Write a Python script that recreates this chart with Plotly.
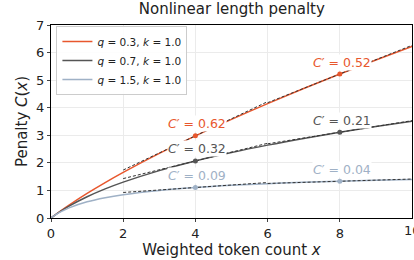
import plotly.graph_objects as go

# Curves
x_vals = [0, 0.1, 0.25, 0.5, 1, 1.5, 2, 3, 4, 5, 6, 7, 8, 9, 10]
c_q03 = [0, 0.099, 0.242, 0.469, 0.892, 1.284, 1.654, 2.342, 2.98, 3.579, 4.150, 4.696, 5.222, 5.731, 6.226]
c_q07 = [0, 0.097, 0.231, 0.431, 0.770, 1.055, 1.301, 1.719, 2.069, 2.373, 2.643, 2.887, 3.111, 3.318, 3.511]
c_q15 = [0, 0.093, 0.211, 0.367, 0.586, 0.735, 0.845, 1.0, 1.106, 1.184, 1.244, 1.293, 1.333, 1.368, 1.397]

legend_labels = ["<i>q</i> = 0.3, <i>k</i> = 1.0", "<i>q</i> = 0.7, <i>k</i> = 1.0", "<i>q</i> = 1.5, <i>k</i> = 1.0"]
colors = ["#e8572d", "#555555", "#9fb1c6"]

# Tangent points and slopes
tangent_x = [4, 8]
tangent_y = [[2.98, 5.222], [2.069, 3.111], [1.106, 1.333]]
slopes = [[0.62, 0.52], [0.32, 0.21], [0.09, 0.04]]

x_ticks = [0, 2, 4, 6, 8, 10]
y_ticks = [0, 1, 2, 3, 4, 5, 6, 7]

fig = go.Figure()
curves = [c_q03, c_q07, c_q15]
for i, c in enumerate(curves):
    fig.add_trace(go.Scatter(x=x_vals, y=c, mode="lines", line=dict(color=colors[i], width=1.5, shape="spline"),
                             name=legend_labels[i], cliponaxis=True))
for i in range(3):
    for j, x0 in enumerate(tangent_x):
        y0 = tangent_y[i][j]
        s = slopes[i][j]
        fig.add_trace(go.Scatter(x=[x0 - 2, x0 + 2], y=[y0 - 2 * s, y0 + 2 * s], mode="lines",
                                 line=dict(color="#333333", width=1, dash="3px,2px"), showlegend=False,
                                 hoverinfo="skip"))
    fig.add_trace(go.Scatter(x=tangent_x, y=tangent_y[i], mode="markers",
                             marker=dict(color=colors[i], size=5), showlegend=False))
    for j, x0 in enumerate(tangent_x):
        fig.add_annotation(x=x0, y=tangent_y[i][j], text=f"<i>C</i>′ = {slopes[i][j]:.2f}",
                           showarrow=False, yshift=12, xshift=2, bgcolor="white",
                           font=dict(color=colors[i], size=12.5, family="DejaVu Sans"), borderpad=0)

# Last x tick label drawn as annotation so it is clipped by the page edge like the reference
fig.add_annotation(x=x_ticks[-1], y=0, xref="x", yref="paper", text=str(x_ticks[-1]), showarrow=False,
                   yanchor="top", yshift=-3, font=dict(size=13, color="#222222"))

fig.update_layout(
    width=414, height=260,
    margin=dict(l=51, r=2, t=25, b=42, autoexpand=False),
    paper_bgcolor="white", plot_bgcolor="white",
    font=dict(family="DejaVu Sans", color="#222222", size=13),
    title=dict(text="Nonlinear length penalty", x=0.56, xanchor="center", y=0.985, yanchor="top",
               font=dict(size=15)),
    legend=dict(x=0.015, y=0.995, xanchor="left", yanchor="top", bgcolor="rgba(255,255,255,0.9)",
                bordercolor="#cccccc", borderwidth=1, font=dict(size=10.5), itemwidth=30,
                tracegroupgap=0),
    showlegend=True,
)
fig.update_xaxes(range=[0, 10], tickvals=x_ticks[:-1], showgrid=True, gridcolor="#ebebeb", gridwidth=1,
                 showline=True, linecolor="black", linewidth=1, mirror=True, ticks="outside",
                 ticklen=3, zeroline=False, automargin=False,
                 title=dict(text="Weighted token count <i>x</i>", font=dict(size=15), standoff=2),
                 tickfont=dict(size=13))
fig.update_yaxes(range=[0, 7], tickvals=y_ticks, showgrid=True, gridcolor="#ebebeb", gridwidth=1,
                 showline=True, linecolor="black", linewidth=1, mirror=True, ticks="outside",
                 ticklen=3, zeroline=False, automargin=False,
                 title=dict(text="Penalty <i>C</i>(<i>x</i>)", font=dict(size=15), standoff=4),
                 tickfont=dict(size=13))

fig.write_html("out.html", config={"displayModeBar": False},
               post_script="document.body.style.margin='0';document.body.style.overflow='hidden';")
